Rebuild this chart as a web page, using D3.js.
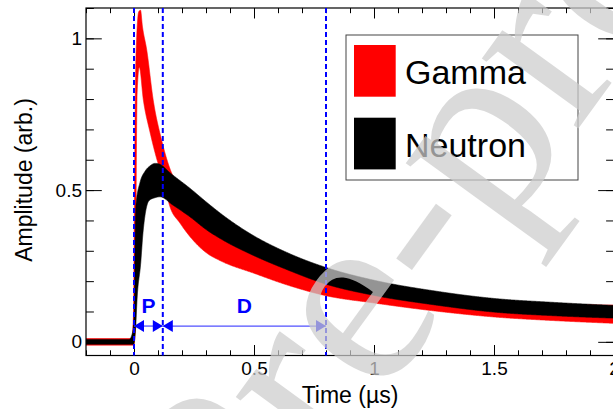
<!DOCTYPE html>
<html><head><meta charset="utf-8">
<script src="https://cdn.jsdelivr.net/npm/d3@7"></script>
<style>body{margin:0;background:#fff}svg{display:block}</style>
</head><body>
<svg id="c" width="613" height="409"></svg>
<script>
// ---- data (time in µs, amplitude in arb. units) ----
const gammaTime  = [-0.2,-0.008,-0.002,0.002,0.006,0.011,0.02,0.027,0.035,0.053,0.08,0.115,0.15,0.2,0.3,0.5,0.8,1.0,1.5,1.8,2.0];
const gammaUpper = [0.011,0.011,0.1,0.5,0.85,1.0,1.088,1.093,1.04,0.962,0.797,0.665,0.57,0.50,0.43,0.34,0.235,0.195,0.138,0.124,0.121];
const gammaLowTime = [-0.2,-0.001,0.006,0.009,0.013,0.022,0.039,0.067,0.094,0.12,0.15,0.192,0.246,0.304,0.358,0.5,0.64,0.8,1.0,1.25,1.5,1.75,2.0];
const gammaLower   = [-0.011,-0.011,0.05,0.5,0.82,0.905,0.797,0.69,0.605,0.54,0.445,0.391,0.335,0.292,0.268,0.226,0.187,0.152,0.128,0.102,0.082,0.07,0.061];

const neutronTime  = [-0.2,-0.02,-0.01,-0.003,0.002,0.005,0.008,0.025,0.046,0.067,0.088,0.108,0.15,0.233,0.304,0.371,0.483,0.65,0.8,1.0,1.25,1.5,1.75,2.0];
const neutronUpper = [0.008,0.008,0.02,0.05,0.15,0.35,0.45,0.525,0.562,0.58,0.588,0.585,0.557,0.506,0.459,0.417,0.357,0.29,0.245,0.203,0.168,0.143,0.13,0.12];
const neutronLowTime = [-0.2,-0.002,0.007,0.0125,0.028,0.0375,0.0625,0.088,0.108,0.163,0.233,0.304,0.371,0.483,0.64,0.8,1.0,1.25,1.5,1.75,2.0];
const neutronLower   = [-0.008,-0.008,0.048,0.137,0.26,0.36,0.465,0.475,0.478,0.45,0.412,0.368,0.335,0.29,0.237,0.19,0.153,0.122,0.098,0.086,0.078];

const markerTimes = [0, 0.12, 0.8];
const regionLabels = ["P", "D"];
const xMajorTicks = [0, 0.5, 1, 1.5, 2];
const yMajorTicks = [0, 0.5, 1];
const legendLabels = ["Gamma", "Neutron"];
const legendColors = ["#ff0000", "#000000"];
const xTitle = "Time (\u00b5s)";
const yTitle = "Amplitude (arb.)";
const watermark = ["Journal Pre", "-proof"];

// ---- layout ----
const L = 86, R = 614, T = 8, B = 355.5;
const svg = d3.select("#c");
const x = d3.scaleLinear().domain([-0.2, 2]).range([L, R]);
const y = d3.scaleLinear().domain([-0.045, 1.1]).range([B, T]);
const font = "'Liberation Sans', Arial, Helvetica, sans-serif";

svg.append("defs").append("clipPath").attr("id","clip")
  .append("rect").attr("x",L).attr("y",T).attr("width",R-L).attr("height",B-T);

// sample a monotone curve densely so a closed band polygon can be built
function sample(times, vals) {
  const ctx = d3.path();
  const c = d3.curveMonotoneX(ctx);
  c.lineStart(); times.forEach((t,i)=>c.point(x(t), y(vals[i]))); c.lineEnd();
  const p = document.createElementNS("http://www.w3.org/2000/svg","path");
  p.setAttribute("d", ctx.toString());
  const len = p.getTotalLength();
  const pts = [];
  const n = 1500;
  for (let k=0;k<=n;k++){ const q = p.getPointAtLength(len*k/n); pts.push([q.x,q.y]); }
  return pts;
}
const gPlot = svg.append("g").attr("clip-path","url(#clip)");
function drawBand(times, hi, lowTimes, lo, color) {
  const up = sample(times, hi);
  const dn = sample(lowTimes, lo).reverse();
  gPlot.append("path").attr("d", d3.line()(up.concat(dn)) + "Z")
    .attr("fill", color).attr("stroke", color).attr("stroke-width", 0.6);
}
drawBand(gammaTime, gammaUpper, gammaLowTime, gammaLower, legendColors[0]);
drawBand(neutronTime, neutronUpper, neutronLowTime, neutronLower, legendColors[1]);

// ---- axes ----
const fmt = d => String(d);
const minorX = d3.range(-2, 21).map(i => i/10);
const minorY = d3.range(0, 12).map(i => i/10);
function styleAxis(g){ g.select(".domain").remove(); g.selectAll("line").attr("stroke","#000").attr("stroke-width",1); g.selectAll("text").attr("font-family",font).attr("font-size",19).attr("fill","#000"); }
svg.append("g").attr("transform",`translate(0,${B})`).call(d3.axisBottom(x).tickValues(minorX).tickSize(-5.2).tickFormat("")).call(styleAxis);
svg.append("g").attr("transform",`translate(0,${B})`).call(d3.axisBottom(x).tickValues(xMajorTicks).tickSize(-10.5).tickPadding(6).tickFormat(fmt)).call(styleAxis);
svg.append("g").attr("transform",`translate(0,${T})`).call(d3.axisTop(x).tickValues(minorX).tickSize(-5.2).tickFormat("")).call(styleAxis);
svg.append("g").attr("transform",`translate(0,${T})`).call(d3.axisTop(x).tickValues(xMajorTicks).tickSize(-10.5).tickFormat("")).call(styleAxis);
svg.append("g").attr("transform",`translate(${L},0)`).call(d3.axisLeft(y).tickValues(minorY).tickSize(-7.9).tickFormat("")).call(styleAxis);
svg.append("g").attr("transform",`translate(${L},0)`).call(d3.axisLeft(y).tickValues(yMajorTicks).tickSize(-15.8).tickPadding(4).tickFormat(fmt)).call(styleAxis);
svg.append("g").attr("transform",`translate(${R},0)`).call(d3.axisRight(y).tickValues(minorY).tickSize(-7.9).tickFormat("")).call(styleAxis);
svg.append("g").attr("transform",`translate(${R},0)`).call(d3.axisRight(y).tickValues(yMajorTicks).tickSize(-15.8).tickFormat("")).call(styleAxis);
svg.append("rect").attr("x",L).attr("y",T).attr("width",R-L).attr("height",B-T)
  .attr("fill","none").attr("stroke","#000").attr("stroke-width",1.2);

// ---- markers ----
svg.selectAll(".mk").data(markerTimes).enter().append("line")
  .attr("x1",d=>x(d)).attr("x2",d=>x(d)).attr("y1",T).attr("y2",B)
  .attr("stroke","#0000ff").attr("stroke-width",2).attr("stroke-dasharray","5,3");
const arrowY = y(0.052);
const segs = d3.pairs(markerTimes);
segs.forEach(([a,b],i)=>{
  const xa = x(a), xb = x(b);
  svg.append("line").attr("x1",xa).attr("x2",xb).attr("y1",arrowY).attr("y2",arrowY)
    .attr("stroke","#5050ff").attr("stroke-width",1.3);
  const hl = 10, hw = 6;
  svg.append("path").attr("d",`M${xa},${arrowY}L${xa+hl},${arrowY-hw}L${xa+hl},${arrowY+hw}Z`).attr("fill","#0000ff");
  svg.append("path").attr("d",`M${xb},${arrowY}L${xb-hl},${arrowY-hw}L${xb-hl},${arrowY+hw}Z`).attr("fill","#0000ff");
  svg.append("text").attr("x",(xa+xb)/2).attr("y",arrowY-13).attr("text-anchor","middle")
    .attr("font-family",font).attr("font-weight","bold").attr("font-size",21).attr("fill","#0000ff")
    .text(regionLabels[i]);
});

// ---- titles ----
svg.append("text").attr("x",(L+R)/2).attr("y",403).attr("text-anchor","middle")
  .attr("font-family",font).attr("font-size",23).attr("fill","#000").text(xTitle);
svg.append("text").attr("transform","translate(31.5,180) rotate(-90)").attr("text-anchor","middle")
  .attr("font-family",font).attr("font-size",23).attr("fill","#000").text(yTitle);

// ---- legend ----
const lg = svg.append("g");
lg.append("rect").attr("x",346).attr("y",35).attr("width",232).attr("height",145)
  .attr("fill","#fff").attr("stroke","#444").attr("stroke-width",1);
legendLabels.forEach((lab,i)=>{
  lg.append("rect").attr("x",354).attr("y",45+i*72.7).attr("width",41.7).attr("height",51.7).attr("fill",legendColors[i]);
  lg.append("text").attr("x",405).attr("y",83.5+i*73.5).attr("font-family",font).attr("font-size",34)
    .attr("fill","#000").text(lab);
});

// ---- watermark ----
const wm = svg.append("g").attr("transform","translate(448,308) rotate(-54)")
  .attr("font-family","'Liberation Serif','Times New Roman',serif").attr("font-size",260)
  .attr("fill","rgb(205,205,205)").attr("opacity",0.72).style("pointer-events","none");
wm.append("text").attr("x",0).attr("y",0).attr("text-anchor","end").text(watermark[0]);
wm.append("text").attr("x",0).attr("y",0).attr("text-anchor","start").text(watermark[1]);
</script>
</body></html>
